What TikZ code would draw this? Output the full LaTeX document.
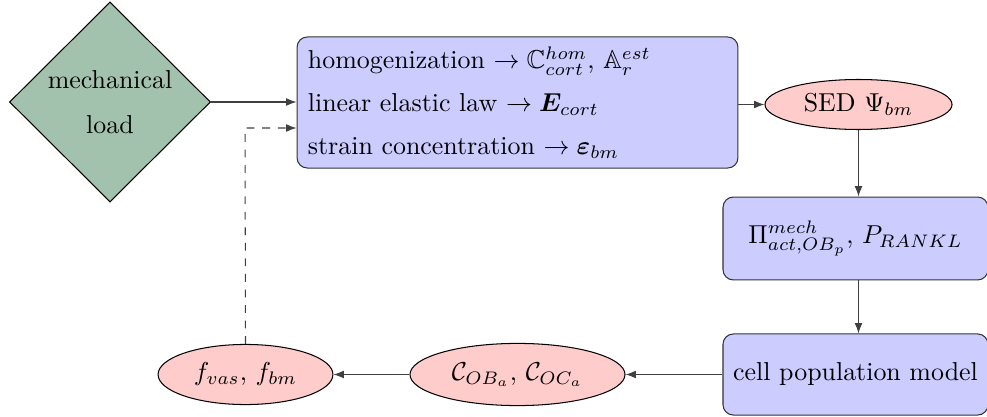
\documentclass[tikz,border=0pt]{standalone}
\usepackage{amsmath,amssymb,bm}
\usetikzlibrary{shapes.geometric,arrows.meta}
\definecolor{loadgreen}{RGB}{163,194,174}
\definecolor{boxblue}{RGB}{204,204,255}
\definecolor{ellred}{RGB}{255,204,204}
\begin{document}
\begin{tikzpicture}[x=0.386pt,y=-0.386pt,
  loadnode/.style={diamond,draw=black,fill=loadgreen,aspect=1,inner sep=0pt,minimum width=77.6pt,minimum height=77.2pt,align=center},
  procbox/.style={draw=black!80,fill=boxblue,rounded corners=4pt},
  resell/.style={ellipse,draw=black,fill=ellred,inner sep=0pt},
  conn/.style={draw=black!75,-{Latex[length=4pt,width=3pt]}},
  dconn/.style={conn,dashed}]
\useasboundingbox (0,0) rectangle (987,417);
\node[loadnode] (load) at (110,102) {mechanical\\[5.2pt]load};
\node[procbox,minimum width=170.2pt,minimum height=50.6pt,inner xsep=4.2pt,text width=161.8pt,align=left] (hom) at (517.5,102.5)
  {homogenization $\rightarrow \mathbb{C}^{hom}_{cort}$, $\mathbb{A}^{est}_r$\\[4.5pt]
   linear elastic law $\rightarrow \bm{E}_{cort}$\\[4.5pt]
   strain concentration $\rightarrow \bm{\varepsilon}_{bm}$};
\node[resell,minimum width=72.2pt,minimum height=19.3pt] (sed) at (858.5,104.5) {SED $\Psi_{bm}$};
\node[procbox,minimum width=102.3pt,minimum height=32pt] (pi) at (855.5,238.5) {$\Pi^{mech}_{act,OB_p}$, $P_{RANKL}$};
\node[procbox,minimum width=102.3pt,minimum height=31.3pt] (cell) at (855.5,374.5) {cell population model};
\node[resell,minimum width=83pt,minimum height=24pt] (cc) at (517.5,374.5) {$\mathcal{C}_{OB_a}$, $\mathcal{C}_{OC_a}$};
\node[resell,minimum width=67.5pt,minimum height=23.2pt] (ff) at (245.5,374.5) {$f_{vas}$, $f_{bm}$};
\coordinate (dk) at (245,128);
\draw[conn] (load.east) -- (load.east -| hom.west);
\draw[conn] (hom.east |- sed.west) -- (sed.west);
\draw[conn] (sed.south) -- (sed.south |- pi.north);
\draw[conn] (pi.south -| sed.south) -- (cell.north -| sed.south);
\draw[conn] (cell.west) -- (cc.east);
\draw[conn] (cc.west) -- (ff.east);
\draw[dconn] (ff.north) -- (dk) -- (dk -| hom.west);
\end{tikzpicture}
\end{document}
